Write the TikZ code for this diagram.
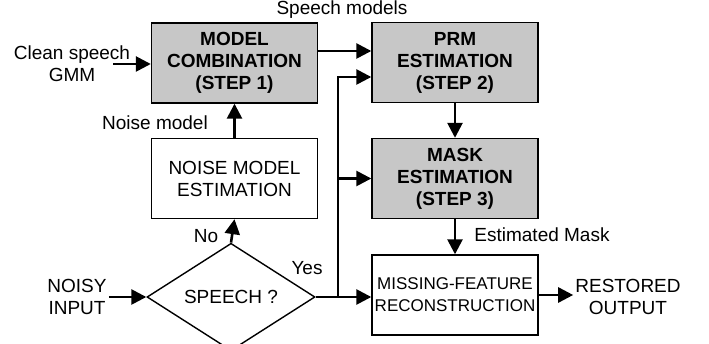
\documentclass[tikz,border=0pt]{standalone}
\usepackage{fontspec}
\setmainfont{Liberation Sans}
\usetikzlibrary{arrows.meta,shapes.geometric}

\begin{document}
\begin{tikzpicture}[x=1pt, y=-1pt,
	every node/.style={font=\fontsize{19}{22}\selectfont, align=center},
	stepbox/.style={draw, line width=1.4pt, fill=black!22, minimum width=166pt, minimum height=80pt, inner sep=0pt, font=\fontsize{19}{22}\selectfont\bfseries},
	plainbox/.style={draw, line width=1.4pt, fill=white, minimum width=166pt, minimum height=80pt, inner sep=0pt},
	arr/.style={line width=2.6pt, -{Triangle[length=15pt, width=15pt]}}]
			%%%%% START %%%%%
			\useasboundingbox (0, 0) rectangle (709, 344);
			
			\node[stepbox] (comb) at (234.5, 63) {MODEL\\COMBINATION\\(STEP 1)};
			\node[plainbox] (noise) at (234.5, 178.5) {NOISE MODEL\\ESTIMATION};
			\node[draw, diamond, line width=1.4pt, minimum width=168pt, minimum height=87pt, inner sep=0pt] (speech) at (231, 297) {SPEECH ?};
			
			\node[stepbox] (prm) at (455, 62.5) {PRM\\ESTIMATION\\(STEP 2)};
			\node[stepbox] (mask) at (455, 178.5) {MASK\\ESTIMATION\\(STEP 3)};
			\node[plainbox, font=\fontsize{17}{22}\selectfont] (mfr) at (455, 295) {MISSING-FEATURE\\RECONSTRUCTION};
			
			\node (clean) at (72, 64) {Clean speech\\GMM};
			\node[inner sep=2pt] (noisy) at (77, 297) {NOISY\\INPUT};
			\node[inner sep=2pt] (restored) at (628, 297) {RESTORED\\OUTPUT};
			
			\node (smodels) at (342, 10) {Speech models};
			\node (nmodel) at (155, 123) {Noise model};
			\node (no) at (206, 236) {No};
			\node (yes) at (307, 268) {Yes};
			\node (emask) at (542, 235) {Estimated Mask};
			
			\coordinate (cin) at (113, 64);
			\coordinate (jn) at (338, 297);
			
			\draw[arr] (cin) -- (comb.west |- cin);
			\draw[arr] (noisy.east) -- (speech.west);
			\draw[arr] (speech.north) -- (noise.south);
			\draw[arr] (noise.north) -- (comb.south);
			\draw[arr] ([yshift=12pt]comb.east) -- ([yshift=12pt]comb.east -| prm.west);
			
			\draw[arr] (speech.east) -- (mfr.west |- speech.east);
			\draw[arr] (jn) |- ([yshift=-14.5pt]prm.west);
			\draw[arr] (jn) |- (mask.west);
			
			\draw[arr] (prm.south) -- (mask.north);
			\draw[arr] (mask.south) -- (mfr.north);
			\draw[arr] (mfr.east) -- (restored.west |- mfr.east);
			%%%%% END %%%%%
\end{tikzpicture}
\end{document}
